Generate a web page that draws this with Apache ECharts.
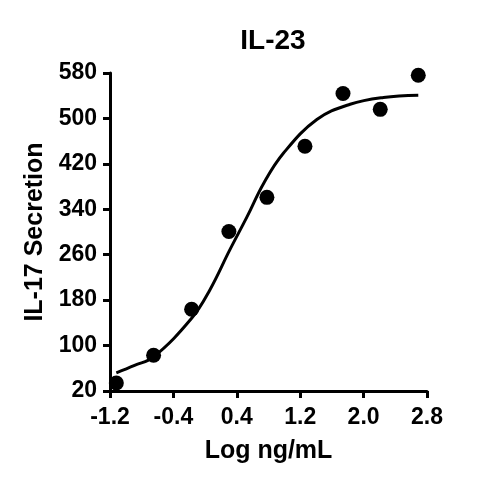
<!DOCTYPE html>
<html lang="en">
<head>
    <meta charset="UTF-8">
    <title>IL-23</title>
    <style type="text/css">
        html,
        body,
        .canvas {
            padding: 0;
            margin: 0;
            background-color: #fff;
            width: 500px;
            height: 492px;
        }
    </style>
</head>
<body>
<div class="canvas" id="chart"></div>
<script type="text/javascript" src="https://cdn.jsdelivr.net/npm/echarts@6/dist/echarts.min.js"></script>
<script>
    // measured points (log dose, IL-17 secretion)
    const doseLog = [-1.12, -0.65, -0.17, 0.30, 0.78, 1.26, 1.74, 2.21, 2.69];
    const secretion = [34, 83, 164, 301, 361, 451, 544, 516, 576];

    // fitted curve
    const fitLog = [-1.12, -0.89, -0.65, -0.17, 0.06, 0.31, 0.53, 0.74, 0.99, 1.41, 1.83, 2.25, 2.69];
    const fitValue = [52, 65, 80, 148, 198, 268, 327, 386, 439, 498, 525, 537, 541];

    const xTicks = [-1.2, -0.4, 0.4, 1.2, 2.0, 2.8];
    const yTicks = [20, 100, 180, 260, 340, 420, 500, 580];

    const font = '"Liberation Sans", Arial, sans-serif';
    const chart = echarts.init(document.getElementById('chart'));

    const axisCommon = {
        type: 'value',
        splitLine: {show: false},
        axisLine: {show: true, onZero: false, lineStyle: {color: '#000', width: 3}},
        axisTick: {show: true, length: 7, lineStyle: {color: '#000', width: 3}},
        nameLocation: 'middle',
        nameTextStyle: {color: '#000', fontWeight: 'bold', fontSize: 25, fontFamily: font}
    };

    chart.setOption({
        animation: false,
        title: {
            text: 'IL-23',
            left: 268,
            textAlign: 'center',
            top: 22,
            textStyle: {color: '#000', fontWeight: 'bold', fontSize: 28, fontFamily: font}
        },
        grid: {left: 110, right: 73, top: 73, bottom: 101, containLabel: false},
        xAxis: Object.assign({}, axisCommon, {
            min: xTicks[0],
            max: xTicks[xTicks.length - 1],
            interval: 0.8,
            name: 'Log ng/mL',
            nameGap: 48,
            axisLabel: {
                color: '#000', fontWeight: 'bold', fontSize: 23, fontFamily: font, margin: 15,
                formatter: v => v.toFixed(1)
            }
        }),
        yAxis: Object.assign({}, axisCommon, {
            min: yTicks[0],
            max: yTicks[yTicks.length - 1],
            interval: 80,
            name: 'IL-17 Secretion',
            nameGap: 57,
            axisLabel: {
                color: '#000', fontWeight: 'bold', fontSize: 23, fontFamily: font, margin: 13
            }
        }),
        series: [
            {
                type: 'line',
                data: fitLog.map((x, i) => [x, fitValue[i]]),
                smooth: 0.4,
                showSymbol: false,
                lineStyle: {color: '#000', width: 3}
            },
            {
                type: 'scatter',
                data: doseLog.map((x, i) => [x, secretion[i]]),
                symbolSize: 15,
                itemStyle: {color: '#000', opacity: 1}
            }
        ]
    });
</script>
</body>
</html>
